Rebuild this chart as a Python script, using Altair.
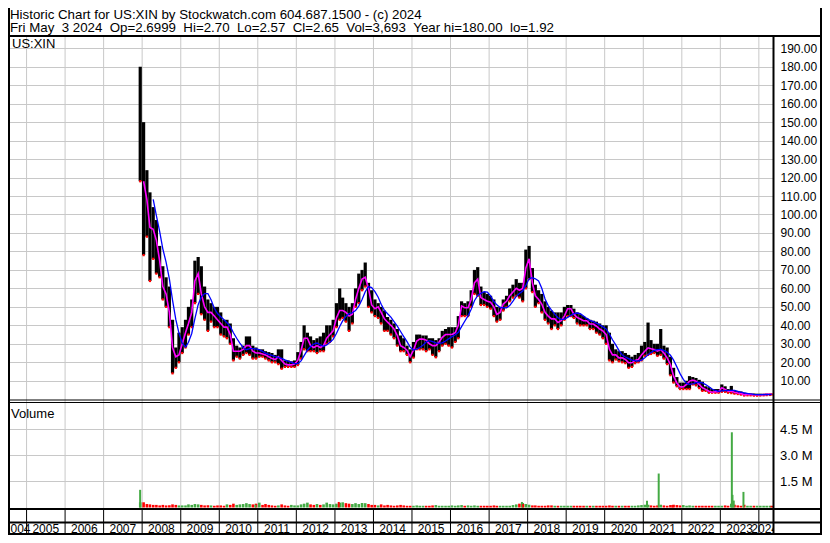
import altair as alt
import pandas as pd

TITLE_LINE_1 = "Historic Chart for US:XIN by Stockwatch.com 604.687.1500 - (c) 2024"
TITLE_LINE_2 = "Fri May  3 2024  Op=2.6999  Hi=2.70  Lo=2.57  Cl=2.65  Vol=3,693  Year hi=180.00  lo=1.92"
SYMBOL = "US:XIN"
VOLUME_LABEL = "Volume"

# monthly bars: Dec 2007 .. May 2024
months = (["2007-12-14"]
          + [f"{y}-{m:02d}-15" for y in range(2008, 2024) for m in range(1, 13)]
          + ["2024-01-15", "2024-02-15", "2024-03-15", "2024-04-15", "2024-05-02"])

highs = [
    180,
    150, 124, 112, 104, 97, 83, 72, 66, 61, 43, 28, 36,
    39, 43, 50, 54, 75, 77, 72, 61, 54, 52, 50, 50,
    47, 43, 43, 41, 33, 29, 28, 29, 34, 34, 29, 28,
    27, 27, 26, 25.5, 25, 24, 27, 27, 21, 21, 20.5, 21,
    25.5, 31, 40, 36, 34, 32, 33, 34, 36, 40, 40, 43,
    52, 60, 55, 52, 50, 52, 60, 68, 70, 74, 63, 59,
    54, 52, 50, 48, 44.5, 43, 41, 38, 34.5, 33, 29, 27,
    31, 35, 35, 34.5, 34.5, 33, 33, 32, 33, 37, 38, 39,
    39, 39, 45, 53, 52, 53, 59, 70, 71.5, 61, 58, 57,
    56, 54, 50, 50, 54, 56, 60, 62, 65, 63, 63, 81,
    83, 71, 62, 59, 57, 53, 50, 48, 47, 47, 47, 50,
    51, 51, 49, 47, 46, 45, 44, 43, 42.5, 42, 41, 40,
    40, 36, 30, 27, 26, 26, 25, 24, 23, 24, 25, 29,
    31, 41.5, 32, 30, 30, 38, 29, 28, 23, 17, 12, 9,
    9, 10, 12.5, 12, 11.5, 10.5, 9.5, 7, 6.5, 5.5, 5.5, 5.5,
    8, 7, 5.5, 7.2, 5, 4.5, 4.2, 3.5, 3.3, 3.2, 3.1, 3.0,
    3.0, 3.0, 3.1, 3.1, 2.70,
]

lows = [
    118,
    78, 88, 64, 76, 68, 66, 54, 50, 39, 14, 17, 20,
    25, 28, 35, 39, 52, 57, 46, 43, 37, 42, 39, 39,
    35, 34, 33, 30, 21, 23, 22, 24, 25, 24, 22, 22,
    23, 23, 22, 21, 20, 20, 19, 16.5, 17.5, 17.5, 17.5, 17.5,
    18.5, 22, 27, 26, 26, 26, 25, 26, 26, 30, 31, 34,
    39, 43, 44, 42, 37, 41, 50, 52, 59, 61, 50, 47,
    45, 44, 41, 37, 37, 35, 33, 29, 26, 26, 24, 20,
    22.5, 27, 27, 27, 26, 27, 24, 22.7, 26, 29, 30, 29,
    28, 31, 33, 45, 45, 45, 50, 57, 56, 51, 51, 50,
    49, 45, 42, 43, 48, 50, 53, 55, 56, 55, 53, 60,
    65, 58, 50, 52, 47, 43, 41, 38, 40, 38, 40, 43,
    45, 45, 44, 41, 40, 40, 40, 38, 38, 36, 35, 33,
    30, 21, 20, 21.5, 20.5, 20, 19.5, 17, 17.5, 19.5, 20, 21,
    23.5, 24, 24.5, 25, 23.5, 24, 22, 19, 13, 9, 7, 5.5,
    5.5, 5.5, 5.5, 8, 7.5, 6, 4.5, 4.5, 3.5, 3.5, 3.5, 3.5,
    4, 4, 3.5, 3.3, 3, 2.8, 2.5, 2, 2.1, 2.1, 1.95, 1.92,
    2.0, 2.1, 2.2, 2.3, 2.57,
]

closes = [
    130,
    118, 108, 93, 92, 86, 75, 61, 57, 47, 28, 23, 24,
    30, 36, 41, 47, 64, 68, 57, 50, 47, 47, 45, 43,
    41, 39, 39, 35, 26, 26, 26, 27, 29, 29, 26, 25,
    25, 24.5, 24, 23, 22, 21.5, 23, 21, 19, 18.6, 18.6, 19,
    21, 26.5, 33, 33, 29, 28, 29, 28, 29, 33, 35, 37,
    44, 48, 48, 47, 45, 46, 54, 60, 65, 66, 60, 51,
    49, 50, 47, 43.5, 41.7, 40, 38, 34.5, 29, 28, 26.5, 23,
    26.5, 31.5, 32.5, 32.5, 32, 30, 29, 29, 31, 33.5, 35, 35,
    35, 36, 40, 50.5, 49.5, 49.5, 54, 63, 65, 55, 54, 53,
    52.5, 50, 46, 47, 51.5, 53, 56, 58, 60, 59, 60, 71,
    76, 63, 56, 54, 51.5, 47, 45, 43.5, 43.5, 41.5, 42.5, 45,
    49, 49, 46, 44.3, 43.4, 42.5, 42.5, 40.7, 40.7, 39.5, 38, 37,
    35, 27, 24, 24, 22.4, 22.4, 21.5, 19.7, 19.7, 21, 21.5, 24,
    26, 27.8, 27.3, 26.9, 26, 26.9, 25, 22.4, 18.8, 12.5, 8.8, 6.7,
    6.7, 8, 9.8, 10.3, 9.8, 8, 6.2, 5.3, 4.3, 3.8, 4, 4,
    6.2, 5.3, 4.3, 4.3, 3.8, 3.4, 3.1, 2.5, 2.6, 2.6, 2.4, 2.4,
    2.4, 2.5, 2.6, 2.7, 2.65,
]

# typical daily volume bar height per month (millions)
volumes = [
    0.3,
    0.3, 0.2, 0.18, 0.15, 0.15, 0.12, 0.15, 0.12, 0.13, 0.18, 0.15, 0.12,
    0.12, 0.12, 0.18, 0.15, 0.2, 0.18, 0.15, 0.12, 0.13, 0.12, 0.1, 0.12,
    0.12, 0.1, 0.18, 0.15, 0.22, 0.15, 0.18, 0.2, 0.25, 0.2, 0.18, 0.22,
    0.28, 0.15, 0.2, 0.15, 0.12, 0.1, 0.12, 0.18, 0.12, 0.1, 0.15, 0.12,
    0.12, 0.18, 0.22, 0.28, 0.18, 0.15, 0.2, 0.15, 0.18, 0.28, 0.2, 0.18,
    0.22, 0.28, 0.3, 0.25, 0.22, 0.2, 0.25, 0.2, 0.26, 0.25, 0.2, 0.15,
    0.15, 0.12, 0.18, 0.12, 0.15, 0.12, 0.1, 0.12, 0.15, 0.12, 0.1, 0.1,
    0.1, 0.12, 0.1, 0.1, 0.1, 0.1, 0.12, 0.14, 0.1, 0.1, 0.1, 0.1,
    0.12, 0.1, 0.12, 0.14, 0.1, 0.12, 0.1, 0.12, 0.1, 0.1, 0.1, 0.1,
    0.1, 0.12, 0.1, 0.1, 0.1, 0.1, 0.1, 0.14, 0.18, 0.22, 0.26, 0.2,
    0.16, 0.12, 0.12, 0.1, 0.1, 0.1, 0.12, 0.12, 0.1, 0.1, 0.1, 0.1,
    0.1, 0.1, 0.1, 0.1, 0.1, 0.1, 0.1, 0.1, 0.1, 0.1, 0.1, 0.1,
    0.1, 0.12, 0.1, 0.1, 0.1, 0.1, 0.1, 0.1, 0.1, 0.1, 0.12, 0.14,
    0.16, 0.16, 0.12, 0.1, 0.12, 0.16, 0.12, 0.1, 0.14, 0.16, 0.14, 0.12,
    0.14, 0.1, 0.12, 0.1, 0.1, 0.1, 0.1, 0.1, 0.1, 0.1, 0.1, 0.1,
    0.1, 0.12, 0.1, 0.22, 0.16, 0.12, 0.1, 0.16, 0.1, 0.1, 0.1, 0.1,
    0.1, 0.1, 0.1, 0.1, 0.1,
]

# individual heavy-volume days (millions)
spike_dates = ["2007-12-13", "2010-12-10", "2013-02-06", "2017-11-08", "2017-11-20",
               "2021-02-05", "2021-05-27", "2021-10-05", "2023-04-20", "2023-04-26",
               "2023-05-08", "2023-08-08"]
spike_vols = [1.02, 0.16, 0.32, 0.32, 0.2, 0.39, 1.96, 0.14, 4.34, 0.73, 0.4, 0.9]
spike_dir = ["up", "up", "down", "up", "down", "up", "up", "down", "up", "up", "up", "up"]

price_ticks = list(range(10, 200, 10))
volume_ticks = [1.5, 3.0, 4.5]
year_starts = [f"{y}-01-01" for y in range(2005, 2025)]
year_labels = [str(y) for y in range(2004, 2025)]
year_label_pos = ["2004-10-04"] + [f"{y}-07-02" for y in range(2005, 2024)] + ["2024-02-25"]

assert len(months) == len(highs) == len(lows) == len(closes) == len(volumes) == 198

price_df = pd.DataFrame({"date": months, "high": highs, "low": lows,
                         "close": closes, "vol": volumes})
prev = price_df["close"].shift(1).fillna(price_df["close"])
price_df["dir"] = ["up" if c >= p else "down" for c, p in zip(price_df["close"], prev)]
spike_df = pd.DataFrame({"date": spike_dates, "vol": spike_vols, "dir": spike_dir})
years_df = pd.DataFrame({"date": year_starts})
labels_df = pd.DataFrame({"date": year_label_pos, "label": year_labels})
vticks_df = pd.DataFrame({"v": volume_ticks, "lab": [f"{v:.1f} M" for v in volume_ticks]})
one = pd.DataFrame({"k": [0]})

W, H, RIGHT = 765, 527, 49
TOP = 28  # header separator
FONT = "Liberation Sans"
GRID = "#c8c8c8"
GREEN, RED = "#44aa44", "#ff0000"

x_scale = alt.Scale(domain=[alt.DateTime(year=2004, month=7, date=9),
                            alt.DateTime(year=2024, month=5, date=14)])
X = alt.X("date:T", scale=x_scale, axis=None)
price_top = (391.2 - (TOP + 1)) / 1.847
price_scale = alt.Scale(domain=[0, price_top], range=[391.2, TOP + 1], nice=False, zero=False)
vol_scale = alt.Scale(domain=[0, 6.03], range=[499.5, 395], nice=False, zero=False)
dir_scale = alt.Scale(domain=["up", "down"], range=[GREEN, RED])

price_axis = alt.Axis(orient="right", values=price_ticks, format=".2f", grid=True,
                      gridColor=GRID, gridWidth=1, domain=False, ticks=False,
                      labelPadding=7, labelFontSize=12, labelFont=FONT,
                      labelColor="#000000", title=None)

vgrid = alt.Chart(years_df).mark_rule(color=GRID, strokeWidth=1).encode(
    x=X, y=alt.value(TOP + 1), y2=alt.value(501))

vol_grid = alt.Chart(vticks_df).mark_rule(color=GRID, strokeWidth=1).encode(
    y=alt.Y("v:Q", scale=vol_scale, axis=None), x=alt.value(0), x2=alt.value(W))

bars = alt.Chart(price_df).mark_rule(color="black", strokeWidth=3.2).encode(
    x=X, y=alt.Y("low:Q", scale=price_scale, axis=price_axis), y2="high:Q")

lowdots = alt.Chart(price_df).mark_square(size=5, color=RED, opacity=1).encode(
    x=X, y=alt.Y("low:Q", scale=price_scale, axis=None))

short_ma = alt.Chart(price_df).transform_window(
    rn="row_number()").transform_filter("datum.rn > 1").mark_line(
    color="#ff00ff", strokeWidth=1.6).encode(
    x=X, y=alt.Y("close:Q", scale=price_scale, axis=None))

long_ma = alt.Chart(price_df).transform_window(
    ma="mean(close)", cnt="count()", frame=[-4, 0]).transform_filter(
    "datum.cnt >= 5").mark_line(color="#0000ff", strokeWidth=1.3).encode(
    x=X, y=alt.Y("ma:Q", scale=price_scale, axis=None))

vol_bars = alt.Chart(price_df).mark_rule(strokeWidth=2.6).encode(
    x=X, y=alt.Y("vol:Q", scale=vol_scale, axis=None), y2=alt.datum(0),
    color=alt.Color("dir:N", scale=dir_scale, legend=None))

vol_spikes = alt.Chart(spike_df).mark_rule(strokeWidth=2).encode(
    x=X, y=alt.Y("vol:Q", scale=vol_scale, axis=None), y2=alt.datum(0),
    color=alt.Color("dir:N", scale=dir_scale, legend=None))

vol_labels = alt.Chart(vticks_df).mark_text(
    align="left", baseline="middle", fontSize=13, font=FONT, color="black").encode(
    y=alt.Y("v:Q", scale=vol_scale, axis=None), x=alt.value(772), text="lab:N")


def text_layer(s, x, y, size=13):
    return alt.Chart(pd.DataFrame({"t": [s.replace(" ", "\u00a0")]})).mark_text(
        align="left", baseline="middle", fontSize=size, font=FONT, color="black"
    ).encode(text="t:N", x=alt.value(x), y=alt.value(y))


head1 = text_layer(TITLE_LINE_1, 2, 6.5, 13.3)
head2 = text_layer(TITLE_LINE_2, 2, 20, 13.3)
sym = text_layer(SYMBOL, 4, 36)
vlab = text_layer(VOLUME_LABEL, 3, 406)

year_text = alt.Chart(labels_df).mark_text(
    baseline="middle", align="center", fontSize=12, font=FONT, color="black",
    clip=True).encode(x=X, y=alt.value(521), text="label:N")

year_sep = alt.Chart(years_df).mark_rule(color="black", strokeWidth=1).encode(
    x=X, y=alt.value(501), y2=alt.value(527))


def hline(y, w=2):
    return alt.Chart(one).mark_rule(color="black", strokeWidth=w).encode(
        x=alt.value(0), x2=alt.value(W + RIGHT), y=alt.value(y))


def vline(x, y0, y1, w=2):
    return alt.Chart(one).mark_rule(color="black", strokeWidth=w).encode(
        x=alt.value(x), y=alt.value(y0), y2=alt.value(y1))


frame = [hline(TOP), hline(392, 1.2), hline(394.5, 1.2), hline(501),
         hline(514.5), hline(526), vline(1, 0, H), vline(W + RIGHT - 1, 0, H),
         vline(765.5, TOP, H)]

chart = alt.layer(
    vgrid, vol_grid, bars, lowdots, short_ma, long_ma, vol_bars, vol_spikes,
    vol_labels, head1, head2, sym, vlab, year_sep, year_text, *frame
).resolve_scale(y="independent").properties(
    width=W, height=H,
    autosize=alt.AutoSizeParams(type="none"),
    padding={"left": 0, "top": 0, "right": RIGHT, "bottom": 0},
    background="white",
).configure_view(stroke=None)

chart.save("out.html", embed_options={"renderer": "svg", "actions": False})
